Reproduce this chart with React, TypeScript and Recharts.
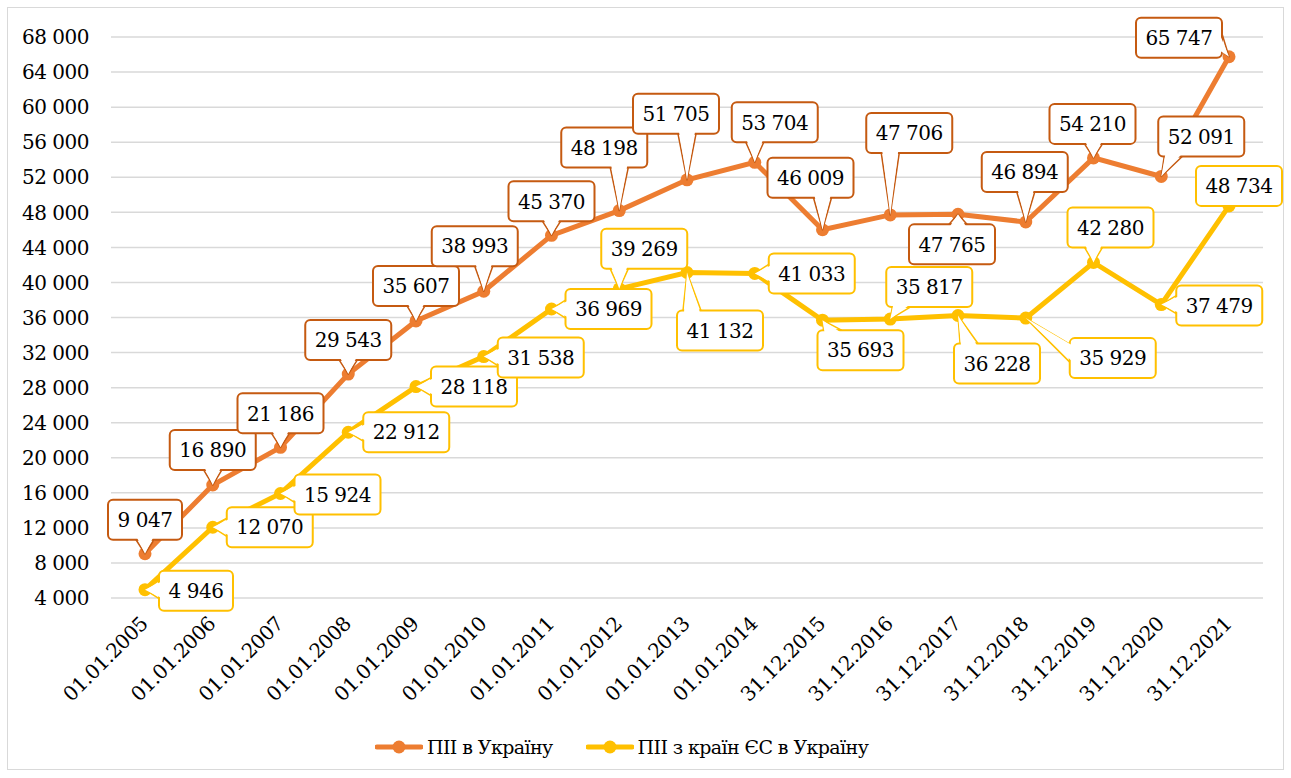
import React from "react";
import { LineChart, Line, XAxis, YAxis, CartesianGrid, Legend, LabelList } from "recharts";

// FDI into Ukraine vs FDI from EU countries, USD mln, 2005-2021.

const categories = [
  "01.01.2005", "01.01.2006", "01.01.2007", "01.01.2008", "01.01.2009", "01.01.2010",
  "01.01.2011", "01.01.2012", "01.01.2013", "01.01.2014", "31.12.2015", "31.12.2016",
  "31.12.2017", "31.12.2018", "31.12.2019", "31.12.2020", "31.12.2021",
];

const totalFdi = [
  9047, 16890, 21186, 29543, 35607, 38993, 45370, 48198, 51705, 53704, 46009, 47706,
  47765, 46894, 54210, 52091, 65747,
];

const euFdi = [
  4946, 12070, 15924, 22912, 28118, 31538, 36969, 39269, 41132, 41033, 35693, 35817,
  36228, 35929, 42280, 37479, 48734,
];

const yTicks = [4000, 8000, 12000, 16000, 20000, 24000, 28000, 32000, 36000, 40000, 44000, 48000, 52000, 56000, 60000, 64000, 68000];

const seriesNames = ["ПІІ в Україну", "ПІІ з країн ЄС в Україну"];

// callout box centre relative to its point (layout only)
const totalLabelShift = [
  [0, -34], [0, -35], [0, -34], [0, -34], [0, -35], [-9, -45], [0, -34], [-15, -63], [-11, -66],
  [20, -40], [-12, -52], [19, -82], [-6, 30], [-1, -50], [-1, -34], [40, -40], [-50, -19],
];
const euLabelShift = [
  [51, 1], [57, 0], [57, 1], [58, 0], [58, 0], [57, 1], [57, 0], [25, -40], [33, 58],
  [57, 0], [38, 30], [39, -32], [39, 48], [87, 40], [17, -35], [58, 1], [10, -20],
];

const ORANGE = "#ED7D31";
const ORANGE_DARK = "#C55A11";
const YELLOW = "#FFC000";
const FONT = "DejaVu Serif";
const FS = 20;
const LS = -0.5;

const data = categories.map((date, i) => ({ date, total: totalFdi[i], eu: euFdi[i] }));

const fmt = (v: number) => String(v).replace(/\B(?=(\d{3})+(?!\d))/g, " ");

function makeCallout(shifts: number[][], stroke: string) {
  return (props: any) => {
    const { x, y, value, index } = props;
    if (x == null || y == null) return null;
    const [dx, dy] = shifts[index] || [0, -34];
    const w = value >= 10000 ? 86 : 74;
    const h = 40;
    const cx = x + dx;
    const cy = y + dy;
    const left = cx - w / 2;
    const right = cx + w / 2;
    const top = cy - h / 2;
    const bottom = cy + h / 2;
    const exX = x < left ? left - x : x > right ? x - right : 0;
    const exY = y < top ? top - y : y > bottom ? y - bottom : 0;
    const hb = 9;
    const clamp = (v: number, a: number, b: number) => Math.max(a, Math.min(b, v));
    let base: number[][] = [];
    let inner: number[][] = [];
    if (exX === 0 && exY === 0) {
      base = [];
    } else if (exY >= exX) {
      const bx = clamp(x, left + 6 + hb, right - 6 - hb);
      const ey = y < top ? top : bottom;
      const ins = y < top ? 2 : -2;
      base = [[bx - hb, ey], [bx + hb, ey]];
      inner = [[bx - hb + 1, ey + ins], [bx + hb - 1, ey + ins]];
    } else {
      const by = clamp(y, top + 6 + hb, bottom - 6 - hb);
      const ex = x < left ? left : right;
      const ins = x < left ? 2 : -2;
      base = [[ex, by - hb], [ex, by + hb]];
      inner = [[ex + ins, by - hb + 1], [ex + ins, by + hb - 1]];
    }
    const pts = (b: number[][]) => `${b[0][0]},${b[0][1]} ${x},${y} ${b[1][0]},${b[1][1]}`;
    return (
      <g>
        {base.length > 0 && (
          <polygon points={pts(base)} fill="#fff" stroke={stroke} strokeWidth={1.5} strokeLinejoin="round" />
        )}
        <rect x={left} y={top} width={w} height={h} rx={5} ry={5} fill="#fff" stroke={stroke} strokeWidth={2} />
        {inner.length > 0 && <polygon points={pts(inner)} fill="#fff" stroke="none" />}
        <text
          x={cx}
          y={cy}
          dy="0.36em"
          textAnchor="middle"
          fill="#000"
          fontSize={FS}
          letterSpacing={LS}
          style={{ fontFamily: FONT }}
        >
          {fmt(value)}
        </text>
      </g>
    );
  };
}

const XTick = (props: any) => {
  const { x, payload } = props;
  const ax = x + 4;
  const ay = 625;
  return (
    <text
      x={ax}
      y={ay}
      transform={`rotate(-45 ${ax} ${ay})`}
      textAnchor="end"
      fill="#000"
      fontSize={FS}
      letterSpacing={LS}
      style={{ fontFamily: FONT }}
    >
      {payload.value}
    </text>
  );
};

const YTick = (props: any) => {
  const { y, payload } = props;
  return (
    <text x={89} y={y} dy="0.36em" textAnchor="end" fill="#000" fontSize={FS} letterSpacing={LS} style={{ fontFamily: FONT }}>
      {fmt(payload.value)}
    </text>
  );
};

const LegendIcon = ({ color }: { color: string }) => (
  <svg width={48} height={20} style={{ display: "block" }}>
    <line x1={2} y1={10} x2={46} y2={10} stroke={color} strokeWidth={5} strokeLinecap="round" />
    <circle cx={24} cy={10} r={6.5} fill={color} />
  </svg>
);

const LegendBox = () => (
  <div
    style={{
      display: "flex",
      alignItems: "center",
      marginLeft: 375,
      fontFamily: FONT,
      fontSize: 19,
      letterSpacing: -0.6,
      color: "#000",
      height: 30,
    }}
  >
    <LegendIcon color={ORANGE} />
    <span style={{ marginLeft: 4, marginRight: 33 }}>{seriesNames[0]}</span>
    <LegendIcon color={YELLOW} />
    <span style={{ marginLeft: 4 }}>{seriesNames[1]}</span>
  </div>
);

export default function App() {
  return (
    <div style={{ position: "absolute", left: 0, top: 0, width: 1291, height: 778, background: "#fff" }}>
      <div
        style={{
          position: "absolute",
          left: 7,
          top: 7,
          width: 1277,
          height: 763,
          border: "1.5px solid #D9D9D9",
          boxSizing: "border-box",
        }}
      />
      <div style={{ position: "absolute", left: 0, top: 0 }}>
        <LineChart width={1291} height={778} data={data} margin={{ top: 37, right: 28, left: 0, bottom: 16 }}>
          <CartesianGrid stroke="#D9D9D9" strokeWidth={1.5} vertical={false} />
          <XAxis
            dataKey="date"
            interval={0}
            padding={{ left: 34, right: 34 }}
            axisLine={false}
            tickLine={false}
            height={134}
            tick={<XTick />}
          />
          <YAxis
            domain={[4000, 68000]}
            ticks={yTicks}
            width={111}
            axisLine={false}
            tickLine={false}
            tick={<YTick />}
          />
          <Legend verticalAlign="bottom" height={30} content={<LegendBox />} />
          <Line
            type="linear"
            dataKey="total"
            name={seriesNames[0]}
            stroke={ORANGE}
            strokeWidth={5}
            dot={{ r: 6.5, fill: ORANGE, stroke: "none" }}
            activeDot={false}
            isAnimationActive={false}
          >
            <LabelList dataKey="total" content={makeCallout(totalLabelShift, ORANGE_DARK)} />
          </Line>
          <Line
            type="linear"
            dataKey="eu"
            name={seriesNames[1]}
            stroke={YELLOW}
            strokeWidth={5}
            dot={{ r: 6.5, fill: YELLOW, stroke: "none" }}
            activeDot={false}
            isAnimationActive={false}
          >
            <LabelList dataKey="eu" content={makeCallout(euLabelShift, YELLOW)} />
          </Line>
        </LineChart>
      </div>
    </div>
  );
}
